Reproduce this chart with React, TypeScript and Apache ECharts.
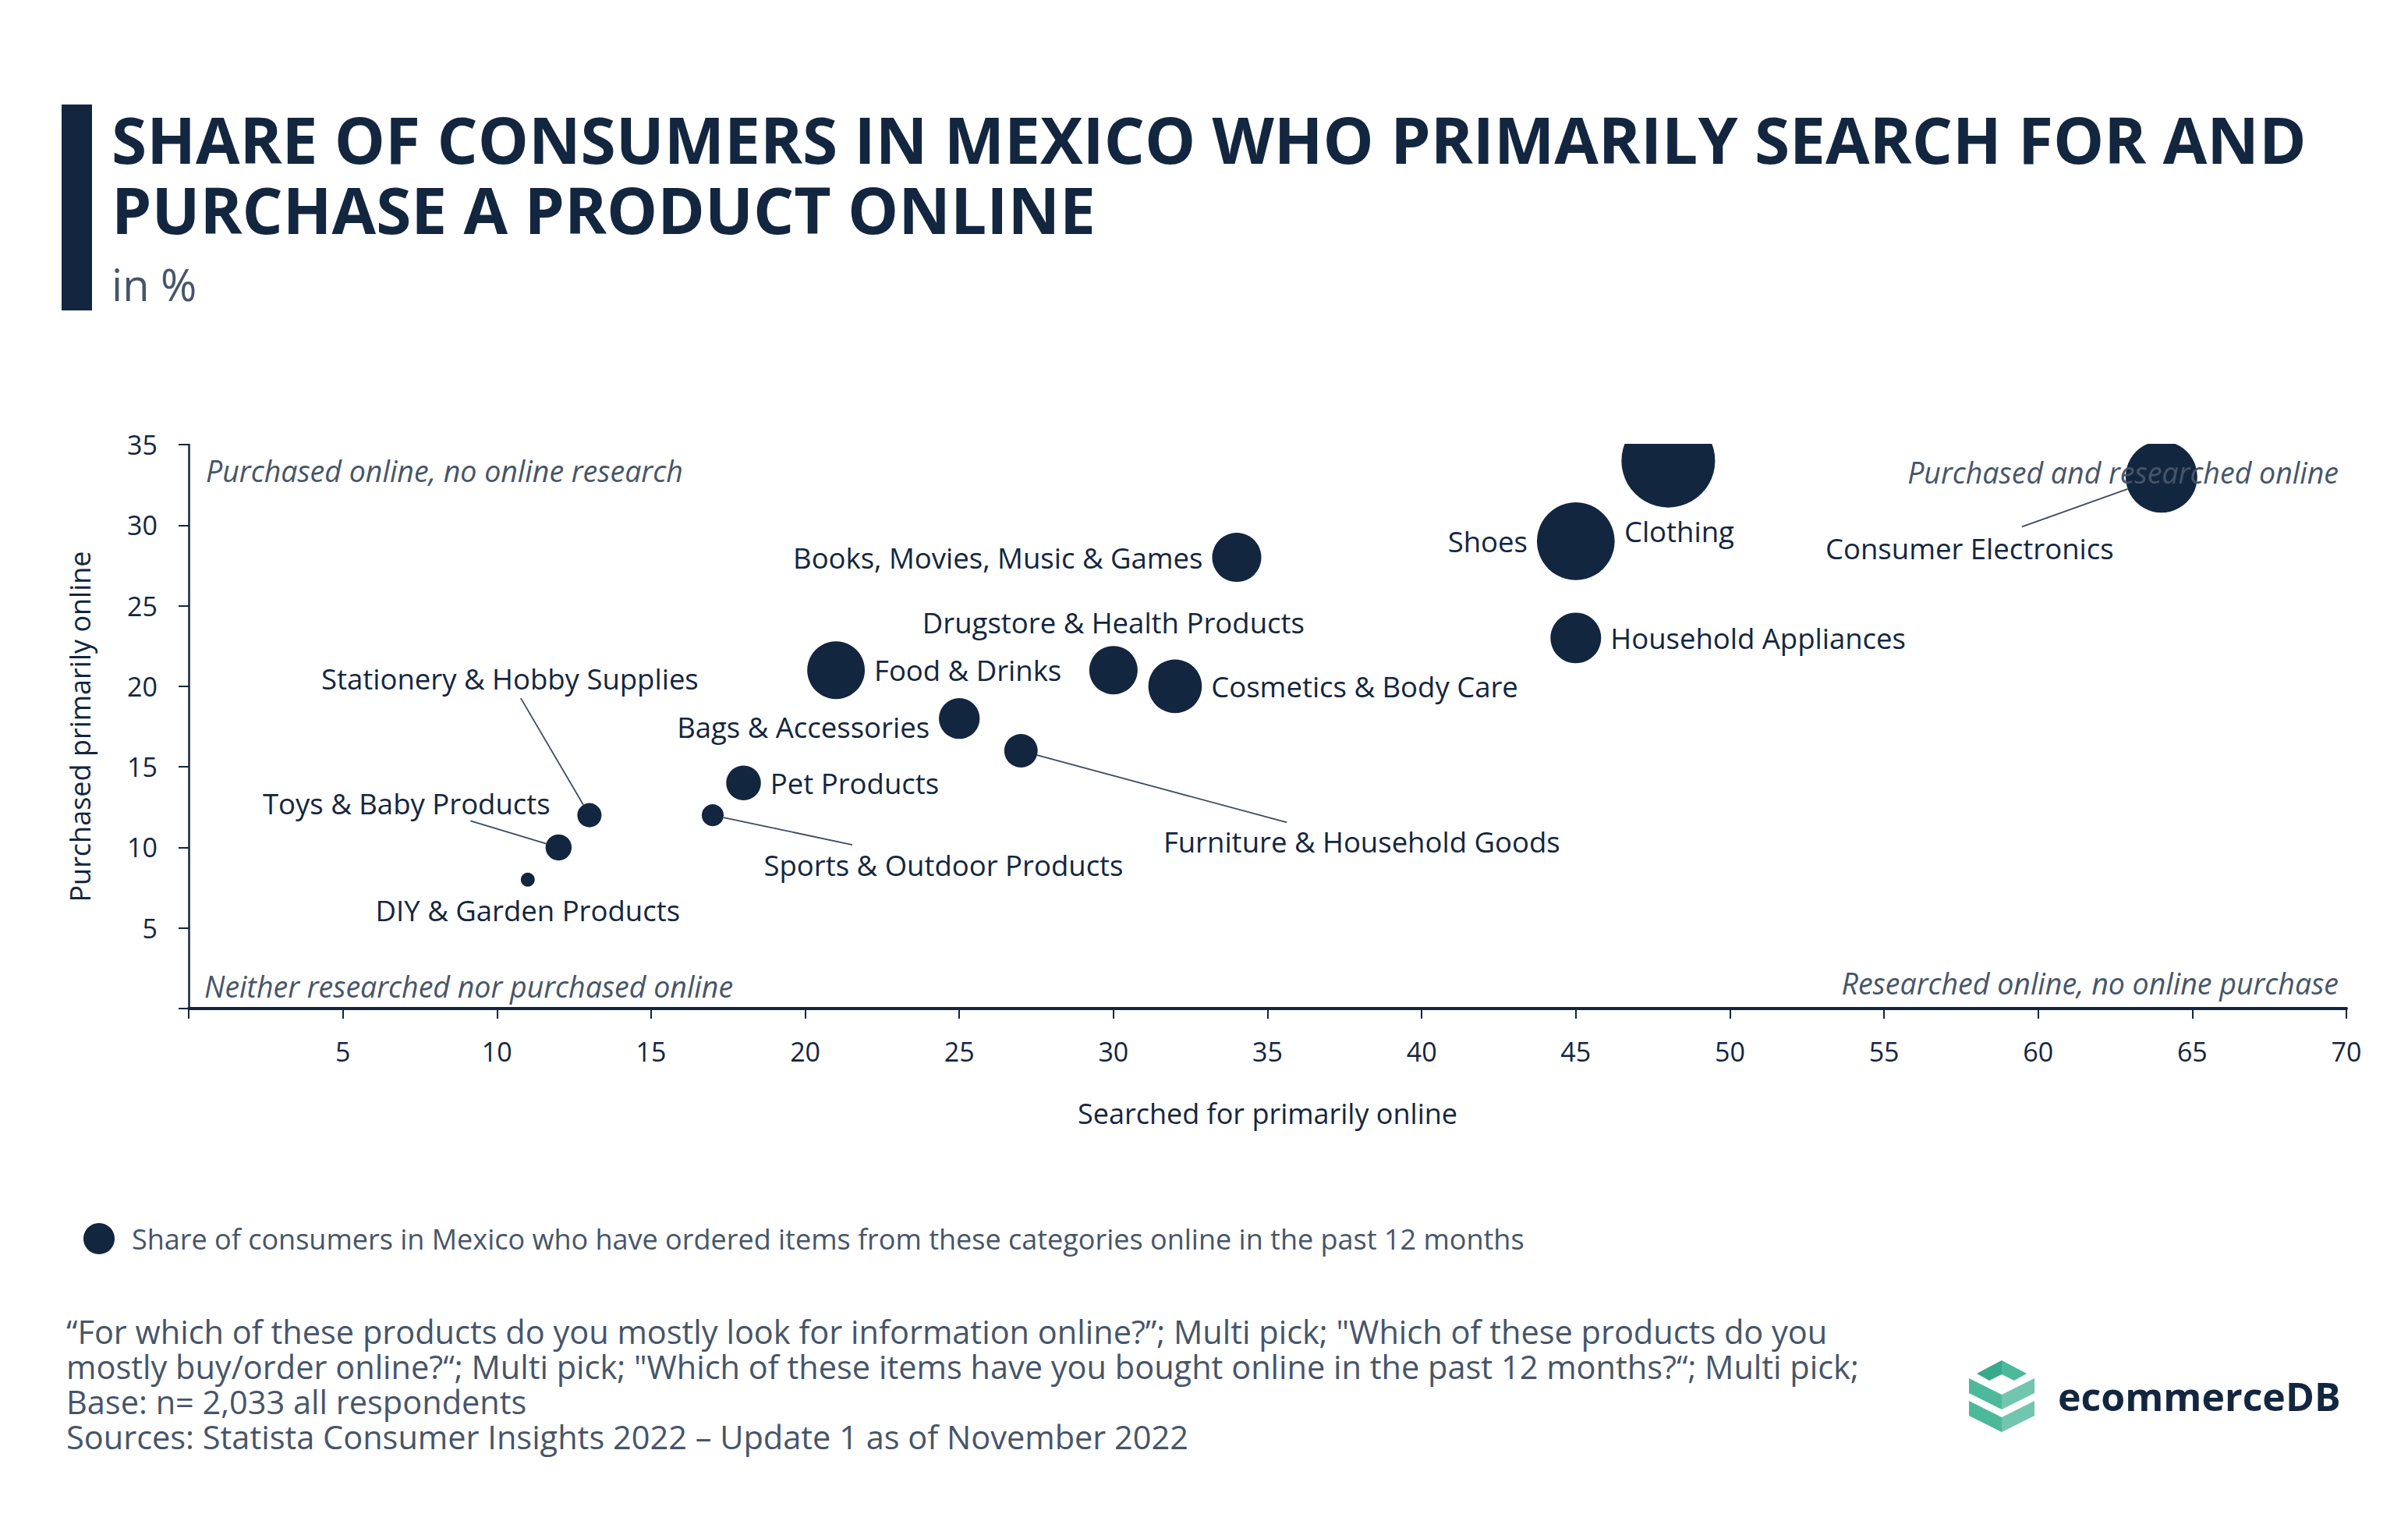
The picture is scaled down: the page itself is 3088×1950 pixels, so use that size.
import React, { useEffect, useRef } from "react";
import * as echarts from "echarts";

const categories = [
  "DIY & Garden Products",
  "Toys & Baby Products",
  "Stationery & Hobby Supplies",
  "Sports & Outdoor Products",
  "Pet Products",
  "Food & Drinks",
  "Bags & Accessories",
  "Furniture & Household Goods",
  "Drugstore & Health Products",
  "Cosmetics & Body Care",
  "Books, Movies, Music & Games",
  "Shoes",
  "Clothing",
  "Household Appliances",
  "Consumer Electronics",
];
const searchedOnline = [11, 12, 13, 17, 18, 21, 25, 27, 30, 32, 34, 45, 48, 45, 64];
const purchasedOnline = [8, 10, 12, 12, 14, 21, 18, 16, 21, 20, 28, 29, 34, 23, 33];
const orderedPast12Months = [1.3, 4.5, 3.9, 3.2, 8, 22, 11, 7.4, 15.5, 19, 16, 40, 58, 17, 34];

const seriesName =
  "Share of consumers in Mexico who have ordered items from these categories online in the past 12 months";
const xAxisName = "Searched for primarily online";
const yAxisName = "Purchased primarily online";
const titleLines = [
  "SHARE OF CONSUMERS IN MEXICO WHO PRIMARILY SEARCH FOR AND",
  "PURCHASE A PRODUCT ONLINE",
];
const subtitle = "in %";
const quadrantLabels = [
  "Purchased online, no online research",
  "Purchased and researched online",
  "Neither researched nor purchased online",
  "Researched online, no online purchase",
];
const footerLines = [
  "\u201cFor which of these products do you mostly look for information online?\u201d; Multi pick; \"Which of these products do you",
  "mostly buy/order online?\u201c; Multi pick; \"Which of these items have you bought online in the past 12 months?\u201c; Multi pick;",
  "Base: n= 2,033 all respondents",
  "Sources: Statista Consumer Insights 2022 \u2013 Update 1 as of November 2022",
];

// label placement (style only): offsets in px; lx/ly = leader line end relative to bubble centre
const placement: Record<
  string,
  { pos: string; dx?: number; dy?: number; lx?: number; ly?: number }
> = {
  "DIY & Garden Products": { pos: "bottom" },
  "Toys & Baby Products": { pos: "inside", dx: -195, dy: -56, lx: -113, ly: -34 },
  "Stationery & Hobby Supplies": { pos: "inside", dx: -102, dy: -175, lx: -88, ly: -150 },
  "Sports & Outdoor Products": { pos: "inside", dx: 296, dy: 64, lx: 179, ly: 38 },
  "Pet Products": { pos: "right" },
  "Food & Drinks": { pos: "right" },
  "Bags & Accessories": { pos: "left", dy: 11 },
  "Furniture & Household Goods": { pos: "inside", dx: 437, dy: 117, lx: 341, ly: 92 },
  "Drugstore & Health Products": { pos: "top" },
  "Cosmetics & Body Care": { pos: "right" },
  "Books, Movies, Music & Games": { pos: "left" },
  Shoes: { pos: "left" },
  Clothing: { pos: "bottom", dx: 14 },
  "Household Appliances": { pos: "right" },
  "Consumer Electronics": { pos: "inside", dx: -246, dy: 92, lx: -179, ly: 64 },
};

const NAVY = "#13263f";
const GREY = "#465569";
const FONT = "Open Sans";
const bubbleSize = (v: number) => 120 * Math.sqrt(v / 58);

export default function App() {
  const ref = useRef<HTMLDivElement>(null);
  useEffect(() => {
    const chart = echarts.init(ref.current!, null, { renderer: "svg" });
    const data = categories.map((name, i) => {
      const p = placement[name];
      return {
        name,
        value: [searchedOnline[i], purchasedOnline[i], orderedPast12Months[i]],
        label: { position: p.pos, distance: 12 },
      };
    });
    const gridLeft = 242,
      gridTop = 570,
      gridW = 2767,
      gridH = 723;
    const baseGraphic: any[] = [
      // cover bubbles overflowing the plot top
      {
        type: "rect",
        z: 50,
        shape: { x: gridLeft + 2, y: 470, width: gridW + 20, height: gridTop - 471 },
        style: { fill: "#ffffff" },
      },
      { type: "rect", z: 60, shape: { x: 79, y: 134, width: 39, height: 264 }, style: { fill: NAVY } },
      {
        type: "text",
        z: 60,
        x: 143,
        y: 133,
        style: {
          text: titleLines.join("\n"),
          fill: NAVY,
          font: `bold 82px '${FONT}'`,
          lineHeight: 90,
          verticalAlign: "top",
        },
      },
      {
        type: "text",
        z: 60,
        x: 143,
        y: 364,
        style: { text: subtitle, fill: GREY, font: `56px '${FONT}'`, verticalAlign: "middle" },
      },
      {
        type: "text",
        z: 60,
        x: 264,
        y: 603,
        style: { text: quadrantLabels[0], fill: GREY, font: `italic 37.5px '${FONT}'`, verticalAlign: "middle" },
      },
      {
        type: "text",
        z: 60,
        x: 2999,
        y: 605,
        style: {
          text: quadrantLabels[1],
          fill: GREY,
          font: `italic 37.5px '${FONT}'`,
          verticalAlign: "middle",
          align: "right",
        },
      },
      {
        type: "text",
        z: 60,
        x: 262,
        y: 1264,
        style: { text: quadrantLabels[2], fill: GREY, font: `italic 37.5px '${FONT}'`, verticalAlign: "middle" },
      },
      {
        type: "text",
        z: 60,
        x: 2999,
        y: 1260,
        style: {
          text: quadrantLabels[3],
          fill: GREY,
          font: `italic 37.5px '${FONT}'`,
          verticalAlign: "middle",
          align: "right",
        },
      },
      {
        type: "text",
        z: 60,
        x: 85,
        y: 1684,
        style: {
          text: footerLines.join("\n"),
          fill: GREY,
          font: `41.5px '${FONT}'`,
          lineHeight: 45,
          verticalAlign: "top",
        },
      },
      // logo
      {
        type: "polygon",
        z: 60,
        shape: { points: [[2535, 1761], [2567, 1744], [2567, 1762], [2551, 1770]] },
        style: { fill: "#38a98a" },
      },
      {
        type: "polygon",
        z: 60,
        shape: { points: [[2567, 1744], [2599, 1761], [2583, 1770], [2567, 1762]] },
        style: { fill: "#4cb99a" },
      },
      {
        type: "polygon",
        z: 60,
        shape: { points: [[2525, 1767], [2567, 1788], [2567, 1807], [2525, 1786]] },
        style: { fill: "#4cb99a" },
      },
      {
        type: "polygon",
        z: 60,
        shape: { points: [[2567, 1788], [2609, 1767], [2609, 1786], [2567, 1807]] },
        style: { fill: "#72c5ae" },
      },
      {
        type: "polygon",
        z: 60,
        shape: { points: [[2525, 1796], [2567, 1817], [2567, 1836], [2525, 1815]] },
        style: { fill: "#4cb99a" },
      },
      {
        type: "polygon",
        z: 60,
        shape: { points: [[2567, 1817], [2609, 1796], [2609, 1815], [2567, 1836]] },
        style: { fill: "#72c5ae" },
      },
      {
        type: "text",
        z: 60,
        x: 2639,
        y: 1790,
        style: { text: "ecommerceDB", fill: NAVY, font: `bold 50px '${FONT}'`, verticalAlign: "middle" },
      },
    ];
    const option: any = {
      animation: false,
      backgroundColor: "#ffffff",
      textStyle: { fontFamily: FONT },
      grid: { left: gridLeft, top: gridTop, width: gridW, height: gridH, containLabel: false },
      legend: {
        left: 102,
        top: 1563,
        itemWidth: 40,
        itemHeight: 40,
        icon: "circle",
        data: [seriesName],
        textStyle: { fontSize: 36, color: GREY, fontFamily: FONT, padding: [0, 0, 0, 17] },
      },
      xAxis: {
        type: "value",
        min: 0,
        max: 70,
        interval: 5,
        name: xAxisName,
        nameLocation: "middle",
        nameGap: 116,
        nameTextStyle: { fontSize: 36, color: NAVY, fontFamily: FONT },
        axisLine: { show: true, lineStyle: { color: NAVY, width: 4 } },
        axisTick: { show: true, length: 13, lineStyle: { color: NAVY, width: 2 } },
        axisLabel: {
          fontSize: 34,
          color: NAVY,
          margin: 38,
          fontFamily: FONT,
          formatter: (v: number) => (v === 0 ? "" : String(v)),
        },
        splitLine: { show: false },
      },
      yAxis: {
        type: "value",
        min: 0,
        max: 35,
        interval: 5,
        name: yAxisName,
        nameLocation: "middle",
        nameGap: 122,
        nameTextStyle: { fontSize: 36, color: NAVY, fontFamily: FONT },
        axisLine: { show: true, lineStyle: { color: NAVY, width: 2.5 } },
        axisTick: { show: true, length: 13, lineStyle: { color: NAVY, width: 2 } },
        axisLabel: {
          fontSize: 34,
          color: NAVY,
          margin: 40,
          fontFamily: FONT,
          formatter: (v: number) => (v === 0 ? "" : String(v)),
        },
        splitLine: { show: false },
      },
      series: [
        {
          name: seriesName,
          type: "scatter",
          data,
          symbol: "circle",
          symbolSize: (val: number[]) => bubbleSize(val[2]),
          itemStyle: { color: NAVY, opacity: 1 },
          label: {
            show: true,
            formatter: "{b}",
            color: NAVY,
            fontSize: 36.5,
            fontFamily: FONT,
            textBorderWidth: 0,
          },
          labelLayout: (params: any) => {
            const p = placement[categories[params.dataIndex]];
            return { dx: p.dx || 0, dy: p.dy || 0 };
          },
          emphasis: { disabled: true },
        },
      ],
      graphic: baseGraphic,
    };
    chart.setOption(option);

    // leader lines: from label end to bubble edge, anchored on the data through the axes
    const leaders: any[] = [];
    categories.forEach((name, i) => {
      const p = placement[name];
      if (p.lx == null || p.ly == null) return;
      const c = chart.convertToPixel({ gridIndex: 0 }, [searchedOnline[i], purchasedOnline[i]]) as number[];
      const ex = c[0] + p.lx;
      const ey = c[1] + p.ly;
      const len = Math.hypot(p.lx, p.ly);
      const r = bubbleSize(orderedPast12Months[i]) / 2;
      leaders.push({
        type: "line",
        z: 40,
        shape: { x1: ex, y1: ey, x2: c[0] + (p.lx / len) * r, y2: c[1] + (p.ly / len) * r },
        style: { stroke: "#3c4a60", lineWidth: 1.8 },
      });
    });
    option.graphic = baseGraphic.concat(leaders);
    chart.setOption(option, { notMerge: true });
    return () => chart.dispose();
  }, []);
  return (
    <div
      ref={ref}
      style={{ position: "fixed", left: 0, top: 0, width: 3088, height: 1950, background: "#fff" }}
    />
  );
}
